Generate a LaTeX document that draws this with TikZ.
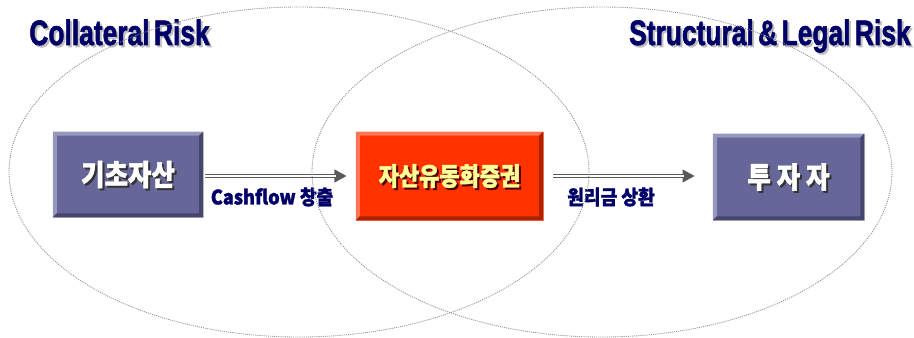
\documentclass[tikz,border=0pt]{standalone}
\usepackage{fontspec}
\usepackage{graphicx}
\usetikzlibrary{arrows.meta}
\setmainfont{Liberation Sans}
\newfontfamily\kr{Noto Sans CJK KR}[BoldFeatures={FakeBold=1.6}]
\newfontfamily\ttl{Liberation Sans}[BoldFeatures={FakeBold=1.8}, WordSpace=0.6]
\definecolor{navy}{HTML}{000066}
\definecolor{boxblue}{HTML}{666699}
\definecolor{boxbluelt}{HTML}{9797C0}
\definecolor{boxbluedk}{HTML}{45456E}
\definecolor{boxred}{HTML}{FF3300}
\definecolor{boxredlt}{HTML}{FF7555}
\definecolor{boxreddk}{HTML}{AA2200}
\definecolor{arrgray}{HTML}{5A5A5A}
\definecolor{paleyellow}{HTML}{FFFF99}
\newcommand\bevelbox[3]{%
  \fill[#2] (#1.north west) -- (#1.north east) -- ([shift={(-4,4)}]#1.north east)
    -- ([shift={(4,4)}]#1.north west) -- ([shift={(4,-4)}]#1.south west) -- (#1.south west) -- cycle;
  \fill[#3] (#1.south east) -- (#1.north east) -- ([shift={(-4,4)}]#1.north east)
    -- ([shift={(-4,-4)}]#1.south east) -- ([shift={(4,-4)}]#1.south west) -- (#1.south west) -- cycle;
}
\tikzset{
  ring/.style={draw=gray!85, line width=0.5pt, dash pattern=on 0.6pt off 0.6pt},
  bluebox/.style={fill=boxblue, draw=gray!40, line width=0.3pt, inner sep=0pt},
  redbox/.style={fill=boxred, draw=boxredlt, line width=0.3pt, inner sep=0pt},
  boxtext/.style={font=\kr\bfseries\fontsize{14.5}{14.5}\selectfont, inner sep=0pt},
  titletext/.style={font=\ttl\bfseries\fontsize{19.5}{19.5}\selectfont, text=navy, inner sep=0pt},
  titleshadow/.style={font=\ttl\bfseries\fontsize{19.5}{19.5}\selectfont, text=gray!50, inner sep=0pt},
  labeltext/.style={font=\kr\bfseries\fontsize{10.3}{10.3}\selectfont, text=navy, inner sep=0pt},
  arrowouter/.style={draw=arrgray, line width=2.8pt, -{Triangle[length=7pt,width=7pt]}},
  arrowinner/.style={draw=white, line width=0.9pt}
}
\begin{document}
\begin{tikzpicture}[x=0.02cm, y=-0.02cm]
\useasboundingbox (0,0) rectangle (914,338);

% boxes
\node[bluebox, minimum width=3cm, minimum height=1.7cm] (b1) at (128,174.5) {};
\bevelbox{b1}{boxbluelt}{boxbluedk}
\node[redbox, minimum width=3.74cm, minimum height=1.76cm] (b2) at (449.5,176) {};
\bevelbox{b2}{boxredlt}{boxreddk}
\node[bluebox, minimum width=3.02cm, minimum height=1.72cm] (b3) at (788.5,177) {};
\bevelbox{b3}{boxbluelt}{boxbluedk}

% box texts with shadows
\node[boxtext, text=black!80] (s1) at ([shift={(2,2)}]b1.center) {\scalebox{1}[1.15]{기초자산}};
\node[boxtext, text=white] (t1) at (b1.center) {\scalebox{1}[1.15]{기초자산}};
\node[boxtext, text=black!70!red, font=\kr\bfseries\fontsize{12.5}{12.5}\selectfont] (s2) at ([shift={(2,2)}]b2.center) {\scalebox{1}[1.15]{자산유동화증권}};
\node[boxtext, text=paleyellow, font=\kr\bfseries\fontsize{12.5}{12.5}\selectfont] (t2) at (b2.center) {\scalebox{1}[1.15]{자산유동화증권}};
\node[boxtext, text=black!80] (s3) at ([shift={(2,2)}]b3.center) {\scalebox{1}[1.15]{투 자 자}};
\node[boxtext, text=white] (t3) at (b3.center) {\scalebox{1}[1.15]{투 자 자}};

% arrows
\draw[arrowouter, shorten <=1.1pt, shorten >=5.1pt] (b1.east |- b2.west) -- (b2.west);
\draw[arrowinner, shorten <=1.1pt, shorten >=11.5pt] (b1.east |- b2.west) -- (b2.west);
\draw[arrowouter, shorten <=5.7pt, shorten >=10.2pt] (b2.east) -- (b3.west |- b2.east);
\draw[arrowinner, shorten <=5.7pt, shorten >=16.6pt] (b2.east) -- (b3.west |- b2.east);

% arrow labels
\node[labeltext] (l1) at (272,197) {\scalebox{1}[1.1]{Cashflow 창출}};
\node[labeltext] (l2) at (611,197) {\scalebox{1}[1.1]{원리금 상환}};

% titles
\node[titleshadow, anchor=base west] (ts1) at (31,47) {\scalebox{0.77}[1.03]{Collateral Risk}};
\node[titletext, anchor=base west] (tt1) at (29,45) {\scalebox{0.77}[1.03]{Collateral Risk}};
\node[titleshadow, anchor=base east] (ts2) at (913,47) {\scalebox{0.77}[1.03]{Structural \& Legal Risk}};
\node[titletext, anchor=base east] (tt2) at (911,45) {\scalebox{0.77}[1.03]{Structural \& Legal Risk}};

% risk ellipses
\draw[ring] (299,172) ellipse [x radius=290, y radius=165];
\draw[ring] (602,172) ellipse [x radius=290, y radius=165];
\end{tikzpicture}
\end{document}
